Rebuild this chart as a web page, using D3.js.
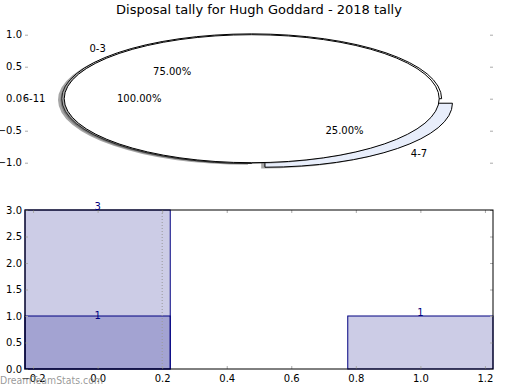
<!DOCTYPE html>
<html>
<head>
<meta charset="utf-8">
<script src="https://cdn.jsdelivr.net/npm/d3@7"></script>
<style>
  html, body { margin: 0; padding: 0; background: #fff; }
  svg { display: block; font-family: "DejaVu Sans", sans-serif; }
</style>
</head>
<body>
<svg id="chart" width="520" height="390"></svg>
<script>
// ---- data ----
const titleText = "Disposal tally for Hugh Goddard - 2018 tally";
const pieACategories = ["0-3", "4-7"];
const pieAValues = [3, 1];
const pieAExplode = [0, 0.1];
const pieBCategories = ["6-11"];
const pieBValues = [1];
const pieYTicks = [-1.0, -0.5, 0.0, 0.5, 1.0];

const barPositionsA = [0, 1];
const barValuesA = [3, 1];
const barPositionsB = [0];
const barValuesB = [1];
const barXTicks = [-0.2, 0.0, 0.2, 0.4, 0.6, 0.8, 1.0, 1.2];
const barYTicks = [0.0, 0.5, 1.0, 1.5, 2.0, 2.5, 3.0];
const markerLineX = [0.2];
const watermarkText = "DreamTeamStats.com";

// ---- setup ----
const svg = d3.select("#chart");
const navy = "#000080";
const tickGray = "#aaaaaa";
const fmt = d3.format(".1f");
const fs = 10;

svg.append("text")
  .attr("x", 259).attr("y", 14)
  .attr("text-anchor", "middle")
  .attr("font-size", 13)
  .attr("fill", "#000")
  .text(titleText);

// ---- pie axes ----
const pieX = d3.scaleLinear().domain([-1.209, 1.287]).range([25, 493]);
const pieY = d3.scaleLinear().domain([-1.25, 1.25]).range([178.7, 18.7]);
const sx = pieX(1) - pieX(0);
const sy = pieY(0) - pieY(1);

const pieLeft = svg.append("g").attr("transform", "translate(25,0)")
  .call(d3.axisLeft(pieY).tickValues(pieYTicks).tickFormat(fmt).tickSize(-3).tickPadding(3));
const pieRight = svg.append("g").attr("transform", "translate(493,0)")
  .call(d3.axisRight(pieY).tickValues(pieYTicks).tickFormat("").tickSize(-3));
[pieLeft, pieRight].forEach(g => {
  g.select(".domain").remove();
  g.selectAll(".tick line").attr("stroke", tickGray);
  g.selectAll("text").attr("font-size", fs).attr("fill", "#000").attr("font-family", "DejaVu Sans");
});

const arcGen = d3.arc().innerRadius(0);
const pieLayout = d3.pie().sort(null).startAngle(Math.PI / 2).endAngle(Math.PI / 2 - 2 * Math.PI);
const wedgeLayer = svg.append("g");
const pieTextLayer = svg.append("g");

function drawPie(values, cats, explode, fills, radii) {
  const arcs = pieLayout(values);
  const total = d3.sum(values);
  const gShadow = wedgeLayer.append("g");
  const gWedge = wedgeLayer.append("g");
  arcs.forEach((a, i) => {
    const mid = (a.startAngle + a.endAngle) / 2;
    const e = explode[i];
    const cx = e * Math.sin(mid), cy = e * Math.cos(mid);
    const r = radii[i];
    const path = arcGen({startAngle: a.startAngle, endAngle: a.endAngle, outerRadius: r});
    gShadow.append("path")
      .attr("transform", `translate(${pieX(cx - 0.02)},${pieY(cy - 0.02)}) scale(${sx},${sy})`)
      .attr("d", path)
      .attr("fill", "#4d4d4d").attr("fill-opacity", 0.5).attr("stroke", "none");
    gWedge.append("path")
      .attr("transform", `translate(${pieX(cx)},${pieY(cy)}) scale(${sx},${sy})`)
      .attr("d", path)
      .attr("fill", fills[i]).attr("stroke", "#000").attr("stroke-width", 1)
      .attr("vector-effect", "non-scaling-stroke")
      .attr("stroke-linejoin", "round");
  });
  arcs.forEach((a, i) => {
    const mid = (a.startAngle + a.endAngle) / 2;
    const e = explode[i];
    const lx = (e + 1.1) * Math.sin(mid), ly = (e + 1.1) * Math.cos(mid);
    pieTextLayer.append("text")
      .attr("x", pieX(lx)).attr("y", pieY(ly))
      .attr("text-anchor", lx > 0 ? "start" : "end")
      .attr("dominant-baseline", "central")
      .attr("font-size", fs).attr("fill", "#000")
      .text(cats[i]);
    const px = (e + 0.6) * Math.sin(mid), py = (e + 0.6) * Math.cos(mid);
    pieTextLayer.append("text")
      .attr("x", pieX(px)).attr("y", pieY(py))
      .attr("text-anchor", "middle")
      .attr("dominant-baseline", "central")
      .attr("font-size", fs).attr("fill", "#000")
      .text((a.value / total * 100).toFixed(2) + "%");
  });
}

drawPie(pieAValues, pieACategories, pieAExplode, ["#ffffff", "#e8eefb"], [1.013, 1]);
drawPie(pieBValues, pieBCategories, [0], ["#ffffff"], [1]);
pieTextLayer.raise();

// ---- bar axes ----
const bx = d3.scaleLinear().domain([-0.225, 1.225]).range([25, 493]);
const by = d3.scaleLinear().domain([0, 3]).range([369, 210]);
const barW = 0.45;

function drawBars(pos, vals) {
  const g = svg.append("g");
  g.selectAll("rect").data(pos.map((p, i) => ({p, v: vals[i]}))).join("rect")
    .attr("x", d => bx(d.p - barW / 2))
    .attr("y", d => by(d.v))
    .attr("width", d => bx(d.p + barW / 2) - bx(d.p - barW / 2))
    .attr("height", d => by(0) - by(d.v))
    .attr("fill", navy).attr("fill-opacity", 0.2)
    .attr("stroke", navy).attr("stroke-width", 1);
  return g;
}
drawBars(barPositionsA, barValuesA);
drawBars(barPositionsB, barValuesB);

svg.append("g").selectAll("line").data(markerLineX).join("line")
  .attr("x1", d => bx(d)).attr("x2", d => bx(d))
  .attr("y1", by(3)).attr("y2", by(0))
  .attr("stroke", "#999").attr("stroke-dasharray", "1,2");

const axL = svg.append("g").attr("transform", "translate(25,0)")
  .call(d3.axisLeft(by).tickValues(barYTicks).tickFormat(fmt).tickSize(-3).tickPadding(3));
const axR = svg.append("g").attr("transform", "translate(493,0)")
  .call(d3.axisRight(by).tickValues(barYTicks).tickFormat("").tickSize(-3));
const axB = svg.append("g").attr("transform", "translate(0,369)")
  .call(d3.axisBottom(bx).tickValues(barXTicks).tickFormat(fmt).tickSize(-3).tickPadding(6));
const axT = svg.append("g").attr("transform", "translate(0,210)")
  .call(d3.axisTop(bx).tickValues(barXTicks).tickFormat("").tickSize(-3));
[axL, axR, axB, axT].forEach(g => {
  g.select(".domain").remove();
  g.selectAll(".tick line").attr("stroke", tickGray);
  g.selectAll("text").attr("font-size", fs).attr("fill", "#000").attr("font-family", "DejaVu Sans");
});

svg.append("rect")
  .attr("x", 25).attr("y", 210).attr("width", 468).attr("height", 159)
  .attr("fill", "none").attr("stroke", "#000").attr("stroke-width", 1);

function barLabels(pos, vals, dy) {
  svg.append("g").selectAll("text").data(pos.map((p, i) => ({p, v: vals[i]}))).join("text")
    .attr("x", d => bx(d.p)).attr("y", d => by(d.v) + dy)
    .attr("text-anchor", "middle")
    .attr("font-size", fs).attr("fill", navy)
    .text(d => d.v);
}
barLabels(barPositionsA, barValuesA, 0);
barLabels(barPositionsB, barValuesB, 3);

svg.append("text")
  .attr("x", 0).attr("y", 383.5)
  .attr("font-size", 11)
  .attr("fill", "#808080").attr("fill-opacity", 0.8)
  .attr("textLength", 103).attr("lengthAdjust", "spacingAndGlyphs")
  .text(watermarkText);
</script>
</body>
</html>
